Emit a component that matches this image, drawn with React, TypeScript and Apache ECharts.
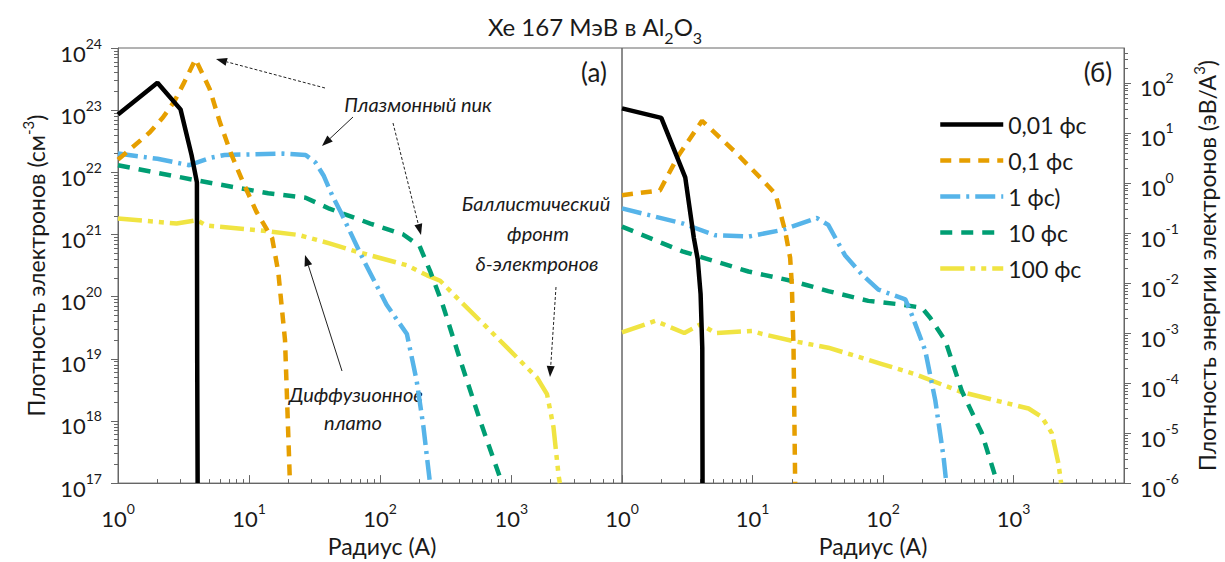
import React, { useEffect, useRef } from 'react';
import * as echarts from 'echarts';

const FONT = 'Lato, "Open Sans", "Noto Sans", sans-serif';
const INK = '#1a1a1a';
const FRAME = '#666666';

const seriesNames = ['0,01 фс', '0,1 фс', '1 фс)', '10 фс', '100 фс'];
const seriesColors = ['#000000', '#E69F00', '#56B4E9', '#009E73', '#F0E442'];
const seriesDashes: (string | number[])[] = ['solid', [11, 8], [20, 6, 3, 6], [12, 9], [24, 6, 5, 6, 5, 6]];

// (а) electron density, cm^-3, against radius, Å
const densityT001: [number, number][] = [
  [1, 8.5e22], [2, 2.75e23], [3, 1.03e23], [3.64, 1.9e22], [4, 6.9e21], [4.02, 1e19], [4.05, 1e17],
];
const densityT01: [number, number][] = [
  [1, 1.6e22], [1.75, 4.4e22], [2.2, 7.6e22], [2.7, 1.4e23], [3.2, 2.8e23], [3.9, 6.6e23], [5, 2.2e23],
  [6, 6.3e22], [7.35, 1.9e22], [9, 6.9e21], [11.4, 2.3e21], [15, 8.7e20], [16.7, 2.5e20], [18.8, 2e19], [20.5, 1e17],
];
const densityT1: [number, number][] = [
  [1, 2e22], [2, 1.65e22], [3.5, 1.3e22], [5, 1.7e22], [6.5, 1.9e22], [18, 2e22], [27, 1.9e22], [32, 1.45e22],
  [37, 8.9e21], [43, 4.3e21], [50, 2.3e21], [75, 3.8e20], [112, 7.4e19], [160, 2.5e19], [190, 4.4e18], [214, 8e17], [240, 1e17],
];
const densityT10: [number, number][] = [
  [1, 1.3e22], [4, 7.4e21], [14, 4.6e21], [27, 3.9e21], [41, 2.6e21], [84, 1.5e21], [150, 1e21], [200, 6.5e20],
  [240, 2.6e20], [300, 7.4e19], [410, 9.3e18], [580, 1e18], [850, 1e17],
];
const densityT100: [number, number][] = [
  [1, 1.8e21], [2.8, 1.5e21], [4, 1.7e21], [4.7, 1.4e21], [14.4, 1.12e21], [24, 9.8e20], [41, 7.2e20], [64, 5.4e20],
  [160, 3.2e20], [228, 2.2e20], [287, 1.8e20], [408, 8.5e19], [652, 3.2e19], [1170, 9.3e18], [1570, 5e18],
  [1875, 2.7e18], [2100, 8e17], [2300, 1.3e17], [2350, 1e17],
];

// (б) electron energy density, eV/Å^3, against radius, Å
const energyT001: [number, number][] = [
  [1, 31], [2, 20], [3.05, 1.3], [3.55, 0.08], [3.8, 0.03], [4, 0.006], [4.12, 5e-4], [4.14, 1e-6],
];
const energyT01: [number, number][] = [
  [1, 0.57], [1.95, 0.71], [2.7, 3.5], [4.1, 17.5], [7.2, 4.4], [12, 1.13], [15, 0.6], [17.8, 0.107],
  [19.4, 0.032], [20, 0.0093], [20.6, 5e-4], [21.2, 1e-6],
];
const energyT1: [number, number][] = [
  [1, 0.31], [2.9, 0.156], [5.2, 0.09], [9.3, 0.085], [16.8, 0.115], [31, 0.2], [38, 0.145], [51, 0.036],
  [69, 0.0148], [92, 0.0074], [148, 0.0047], [166, 0.0023], [210, 4.5e-4], [251, 4.5e-5], [290, 3.4e-6], [305, 1e-6],
];
const energyT10: [number, number][] = [
  [1, 0.134], [2.9, 0.043], [9.3, 0.017], [20, 0.011], [38, 0.0069], [77, 0.0044], [140, 0.0037], [198, 0.0032],
  [230, 0.002], [300, 7e-4], [400, 7e-5], [570, 1e-5], [750, 1e-6],
];
const energyT100: [number, number][] = [
  [1, 1.03e-3], [1.8, 1.75e-3], [3, 1.0e-3], [4, 1.5e-3], [5.2, 1.0e-3], [9.9, 1.1e-3], [11.8, 9.6e-4], [20, 7e-4],
  [38, 5.1e-4], [98, 2.4e-4], [176, 1.5e-4], [400, 6.6e-5], [1300, 3.1e-5], [1640, 2.1e-5], [1960, 1e-5],
  [2200, 2.5e-6], [2310, 1e-6],
];

const densitySeries = [densityT001, densityT01, densityT1, densityT10, densityT100];
const energySeries = [energyT001, energyT01, energyT1, energyT10, energyT100];

const radiusRange: [number, number] = [1, 7000];
const densityRange: [number, number] = [1e17, 1e24];
const energyRange: [number, number] = [1e-6, 500];

// Decade ticks; the top edge is nudged inwards so it survives the extent check.
function decades(min: number, max: number): number[] {
  const out: number[] = [];
  for (let e = Math.ceil(Math.log10(min) - 1e-9); e <= Math.floor(Math.log10(max) + 1e-9); e++) {
    const v = Number('1e' + e);
    out.push(v >= max ? max * (1 - 1e-9) : v);
  }
  return out;
}

function minors(min: number, max: number): number[] {
  const out: number[] = [];
  for (let e = Math.floor(Math.log10(min)); e <= Math.ceil(Math.log10(max)); e++) {
    for (let k = 2; k <= 9; k++) {
      const v = Number(k + 'e' + e);
      if (v > min && v < max) out.push(v);
    }
  }
  return out;
}

// "10" sits at the bottom of a 28px line, the exponent hangs from its top.
const powerLabel = (value: number) => `{b|10}{s|${Math.round(Math.log10(value))}}`;
const powerRich = {
  b: { fontFamily: FONT, fontSize: 22, lineHeight: 28, verticalAlign: 'bottom', color: INK },
  s: { fontFamily: FONT, fontSize: 14, lineHeight: 10, verticalAlign: 'top', color: INK },
};
const nameRich = {
  a: { fontFamily: FONT, fontSize: 23, lineHeight: 27, verticalAlign: 'bottom', color: INK },
  s: { fontFamily: FONT, fontSize: 15, lineHeight: 12, verticalAlign: 'top', color: INK },
};

function radiusAxes(gridIndex: number, namePadding: number[]) {
  const [min, max] = radiusRange;
  return [
    {
      type: 'log', gridIndex, min, max, position: 'bottom',
      name: 'Радиус (А)', nameLocation: 'middle', nameGap: 48,
      nameTextStyle: { fontFamily: FONT, fontSize: 23, color: INK, padding: namePadding },
      axisLine: { show: true, onZero: false, lineStyle: { color: FRAME, width: 1 } },
      axisTick: { show: true, inside: true, length: 8, customValues: decades(min, max), lineStyle: { color: FRAME } },
      axisLabel: { customValues: decades(min, max), formatter: powerLabel, rich: powerRich, margin: 18 },
      splitLine: { show: false },
    },
    {
      type: 'log', gridIndex, min, max, position: 'bottom',
      axisLine: { show: false, onZero: false },
      axisTick: { show: true, inside: true, length: 4, customValues: minors(min, max), lineStyle: { color: FRAME } },
      axisLabel: { show: false },
      splitLine: { show: false },
    },
  ];
}

function valueAxes(gridIndex: number, range: [number, number], position: string, name: string, nameGap: number) {
  const [min, max] = range;
  return [
    {
      type: 'log', gridIndex, min, max, position,
      name, nameLocation: 'middle', nameGap, nameRotate: 90,
      nameTextStyle: { fontFamily: FONT, fontSize: 23, color: INK, rich: nameRich },
      axisLine: { show: true, onZero: false, lineStyle: { color: FRAME, width: 1 } },
      axisTick: { show: true, inside: false, length: 7, customValues: decades(min, max), lineStyle: { color: FRAME } },
      axisLabel: { customValues: decades(min, max), formatter: powerLabel, rich: powerRich, margin: 16, padding: [4, 0, 0, 0] },
      splitLine: { show: false },
    },
    {
      type: 'log', gridIndex, min, max, position,
      axisLine: { show: false, onZero: false },
      axisTick: { show: true, inside: false, length: 4, customValues: minors(min, max), lineStyle: { color: FRAME } },
      axisLabel: { show: false },
      splitLine: { show: false },
    },
  ];
}

type Arrow = { from: [number, number]; to: [number, number]; dashed: boolean };
const arrows: Arrow[] = [
  { from: [325, 88], to: [216, 59], dashed: true },
  { from: [353, 117], to: [322, 146], dashed: false },
  { from: [393, 123], to: [421, 235], dashed: true },
  { from: [342, 371], to: [305, 255], dashed: false },
  { from: [556, 287], to: [550, 377], dashed: true },
];

type Note = { text: string; x: number; y: number; italic: boolean; size: number };
const notes: Note[] = [
  { text: 'Плазмонный пик', x: 418, y: 104, italic: true, size: 20 },
  { text: 'Диффузионное', x: 356, y: 394, italic: true, size: 20 },
  { text: 'плато', x: 353, y: 422, italic: true, size: 20 },
  { text: 'Баллистический', x: 536, y: 203, italic: true, size: 20 },
  { text: 'фронт', x: 538, y: 233, italic: true, size: 20 },
  { text: 'δ-электронов', x: 537, y: 263, italic: true, size: 20 },
  { text: '(а)', x: 594, y: 72, italic: false, size: 26 },
  { text: '(б)', x: 1098, y: 72, italic: false, size: 26 },
];

function arrowGraphic(a: Arrow) {
  const [x1, y1] = a.from;
  const [x2, y2] = a.to;
  const len = Math.hypot(x2 - x1, y2 - y1);
  const ux = (x2 - x1) / len;
  const uy = (y2 - y1) / len;
  const head = 11;
  const half = 4;
  const bx = x2 - ux * head;
  const by = y2 - uy * head;
  return {
    type: 'group',
    children: [
      {
        type: 'line',
        shape: { x1, y1, x2: bx, y2: by },
        style: { stroke: '#222', lineWidth: 1, lineDash: a.dashed ? [3, 2] : null },
      },
      {
        type: 'polygon',
        shape: { points: [[x2, y2], [bx - uy * half, by + ux * half], [bx + uy * half, by - ux * half]] },
        style: { fill: '#111' },
      },
    ],
  };
}

export default function App() {
  const ref = useRef<HTMLDivElement>(null);

  useEffect(() => {
    if (!ref.current) return;
    const chart = echarts.init(ref.current, null, { renderer: 'svg' });

    const series: any[] = [];
    densitySeries.forEach((data, i) => {
      series.push({
        type: 'line', name: seriesNames[i], data, xAxisIndex: 0, yAxisIndex: 0,
        showSymbol: false, symbol: 'none',
        lineStyle: { color: seriesColors[i], width: 4.5, type: seriesDashes[i] },
        itemStyle: { color: seriesColors[i] },
        z: 10 - i,
      });
    });
    energySeries.forEach((data, i) => {
      series.push({
        type: 'line', name: seriesNames[i], data, xAxisIndex: 2, yAxisIndex: 2,
        showSymbol: false, symbol: 'none',
        lineStyle: { color: seriesColors[i], width: 4.5, type: seriesDashes[i] },
        itemStyle: { color: seriesColors[i] },
        z: 10 - i,
      });
    });

    const graphics: any[] = [
      {
        type: 'text', x: 595, y: 14,
        style: {
          text: '{t|Xe 167 МэВ в Al}{s|2}{t|O}{s|3}',
          textAlign: 'center', textVerticalAlign: 'top',
          fontFamily: FONT, fontSize: 24, fill: INK,
          rich: {
            t: { fontFamily: FONT, fontSize: 24, lineHeight: 26, verticalAlign: 'top', fill: INK },
            s: { fontFamily: FONT, fontSize: 16, lineHeight: 31, verticalAlign: 'bottom', fill: INK },
          },
        },
      },
      ...arrows.map(arrowGraphic),
      ...notes.map((n) => ({
        type: 'text', x: n.x, y: n.y,
        style: {
          text: n.text, textAlign: 'center', textVerticalAlign: 'middle',
          fontFamily: FONT, fontSize: n.size, fontStyle: n.italic ? 'italic' : 'normal', fill: INK,
        },
      })),
    ];

    chart.setOption({
      animation: false,
      backgroundColor: '#ffffff',
      grid: [
        { left: 118, right: 603, top: 48, bottom: 75, show: true, borderColor: FRAME, borderWidth: 1, backgroundColor: 'transparent' },
        { left: 622, right: 101, top: 48, bottom: 75, show: true, borderColor: FRAME, borderWidth: 1, backgroundColor: 'transparent' },
      ],
      xAxis: [...radiusAxes(0, [0, 0, 0, 24]), ...radiusAxes(1, [0, 0, 0, 0])],
      yAxis: [
        ...valueAxes(0, densityRange, 'left', '{a|Плотность электронов (см}{s|-3}{a|)}', 71),
        ...valueAxes(1, energyRange, 'right', '{a|Плотность энергии электронов (эВ/А}{s|3}{a|)}', 67),
      ],
      legend: {
        data: seriesNames,
        orient: 'vertical',
        left: 938, top: 113,
        padding: 0,
        itemWidth: 63, itemHeight: 22, itemGap: 13,
        lineStyle: { width: 4.5 },
        itemStyle: { opacity: 0, borderWidth: 0 },
        textStyle: { fontFamily: FONT, fontSize: 23, color: INK, lineHeight: 22 },
      },
      series,
      graphic: graphics,
    });

    return () => chart.dispose();
  }, []);

  return (
    <div
      ref={ref}
      style={{ position: 'fixed', left: 0, top: 0, width: 1225, height: 562, background: '#fff' }}
    />
  );
}
